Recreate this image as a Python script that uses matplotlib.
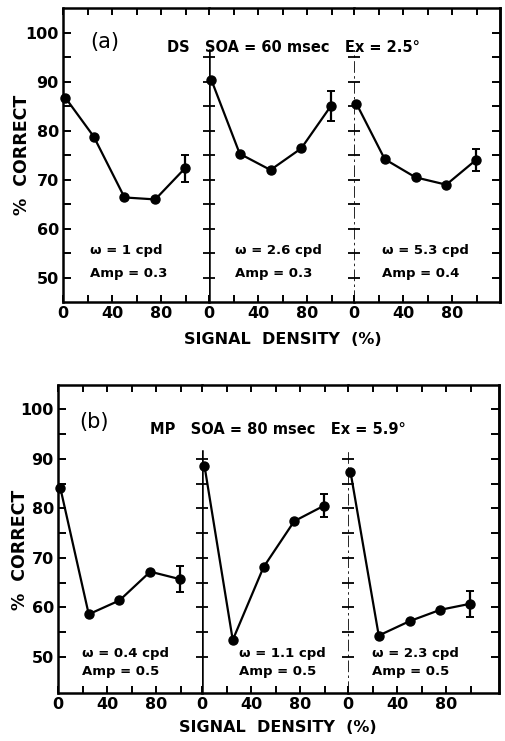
import matplotlib
matplotlib.use("Agg")
import matplotlib.pyplot as plt

# ---------------- data ----------------
density = [2, 25, 50, 75, 99]            # signal density (%)

# panel (a)  DS, SOA = 60 msec, Ex = 2.5 deg
a_vals = [
    [86.7, 78.8, 66.4, 66.0, 72.3],
    [90.3, 75.3, 72.0, 76.4, 85.0],
    [85.5, 74.2, 70.5, 69.0, 74.0],
]
a_err_last = [2.7, 3.0, 2.2]
a_freq = ["1", "2.6", "5.3"]
a_amp = ["0.3", "0.3", "0.4"]

# panel (b)  MP, SOA = 80 msec, Ex = 5.9 deg
b_vals = [
    [84.0, 58.6, 61.4, 67.2, 65.7],
    [88.6, 53.4, 68.1, 77.4, 80.5],
    [87.4, 54.3, 57.2, 59.5, 60.7],
]
b_err_last = [2.7, 2.3, 2.6]
b_freq = ["0.4", "1.1", "2.3"]
b_amp = ["0.5", "0.5", "0.5"]

x_ticks = [0, 20, 40, 60, 80, 100]
x_ticklabels = ["0", "", "40", "", "80", ""]
y_ticks = [50, 55, 60, 65, 70, 75, 80, 85, 90, 95, 100]
y_ticklabels = ["50", "", "60", "", "70", "", "80", "", "90", "", "100"]

plt.rcParams["font.family"] = "DejaVu Sans"

W, H = 505, 741
fig = plt.figure(figsize=(W / 100, H / 100), dpi=100)

LW_FRAME = 1.8
LW_LINE = 1.6


def panel(left_px, top_px, bottom_px, widths, ylim, vals, errs,
          freqs, amps, div_top, label, title, title_xy, lab_xy, ann_y,
          ann_x, xlabel_xy, ylabel_xy):
    px_per_unit = 1.23
    xcur = left_px
    for i, w in enumerate(widths):
        ax = fig.add_axes([xcur / W, 1 - bottom_px / H, w / W,
                           (bottom_px - top_px) / H])
        xcur += w
        ax.set_xlim(0, w / px_per_unit)
        ax.set_ylim(*ylim)
        for s in ax.spines.values():
            s.set_linewidth(LW_FRAME)
        ax.spines["right"].set_visible(i == 2)
        ax.spines["left"].set_visible(i == 0)
        ax.set_xticks(x_ticks)
        ax.set_xticklabels(x_ticklabels, fontsize=11.5, fontweight="bold")
        ax.tick_params(axis="x", direction="in", top=True, bottom=True,
                       length=5, width=1.4, pad=3)
        if i == 0:
            ax.set_yticks(y_ticks)
            ax.set_yticklabels(y_ticklabels, fontsize=11.5,
                               fontweight="bold")
            ax.tick_params(axis="y", direction="in", left=True, right=False,
                           length=6, width=1.4, pad=3)
        else:
            yt = [v for v in y_ticks if v <= div_top]
            ax.set_yticks(yt)
            ax.set_yticklabels([])
            ax.tick_params(axis="y", direction="inout", left=True,
                           right=False, length=8, width=1.3)
            frac = (div_top + 1.5 - ylim[0]) / (ylim[1] - ylim[0])
            ax.axvline(0, ymin=0, ymax=frac, color="black",
                       lw=LW_FRAME if i == 1 else 1.2,
                       ls="-" if i == 1 else (0, (7, 2, 1.5, 2)))
        if i == 2:
            sec = ax.secondary_yaxis("right")
            sec.set_yticks(y_ticks)
            sec.set_yticklabels([])
            sec.tick_params(direction="in", length=6, width=1.4)
            sec.spines["right"].set_linewidth(LW_FRAME)

        ax.plot(density, vals[i], color="black", lw=LW_LINE, marker="o",
                ms=6.5, zorder=3, clip_on=False)
        ax.errorbar(density[-1], vals[i][-1], yerr=errs[i], color="black",
                    lw=1.6, capsize=3, capthick=1.4, zorder=3)

        fig.text(ann_x[i] / W, 1 - ann_y[0] / H, "\u03c9 = %s cpd" % freqs[i],
                 fontsize=9.5, fontweight="bold", va="center", ha="left")
        fig.text(ann_x[i] / W, 1 - ann_y[1] / H, "Amp = %s" % amps[i],
                 fontsize=9.5, fontweight="bold", va="center", ha="left")

    fig.text(lab_xy[0] / W, 1 - lab_xy[1] / H, label, fontsize=15,
             va="center", ha="left")
    fig.text(title_xy[0] / W, 1 - title_xy[1] / H, title, fontsize=10.5,
             fontweight="bold", va="center", ha="left")
    fig.text(xlabel_xy[0] / W, 1 - xlabel_xy[1] / H, "SIGNAL  DENSITY  (%)",
             fontsize=11.5, fontweight="bold", va="center", ha="center")
    fig.text(ylabel_xy[0] / W, 1 - ylabel_xy[1] / H, "%  CORRECT",
             fontsize=12.5, fontweight="bold", va="center", ha="center",
             rotation=90)


panel(63, 8, 302, [146, 145, 146], (45.1, 105), a_vals, a_err_last,
      a_freq, a_amp, 95, "(a)", "DS   SOA = 60 msec   Ex = 2.5\u00b0",
      (167, 47), (90, 42), (250, 274), [90, 235, 382], (283, 340), (22, 155))

panel(58, 385, 693, [144, 146, 151], (42.7, 104.9), b_vals, b_err_last,
      b_freq, b_amp, 90, "(b)", "MP   SOA = 80 msec   Ex = 5.9\u00b0",
      (150, 430), (79, 422), (653, 672), [82, 239, 372], (278, 728),
      (20, 550))

fig.savefig("out.png", dpi=100)
